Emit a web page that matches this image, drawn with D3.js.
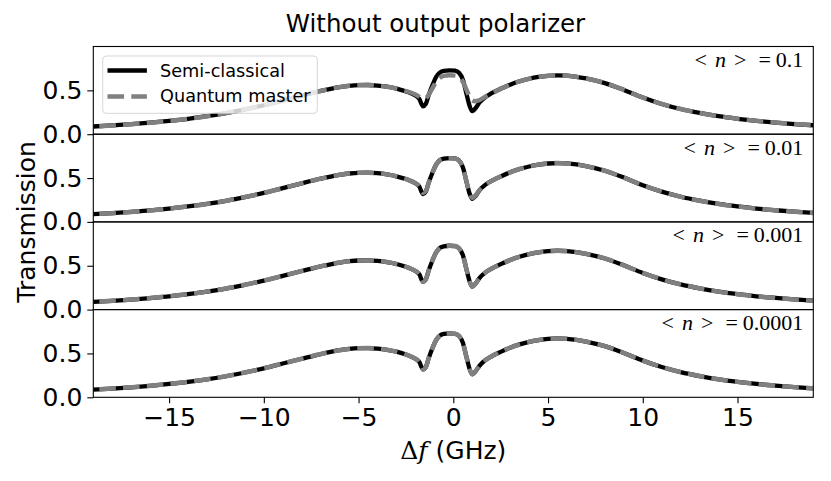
<!DOCTYPE html>
<html><head><meta charset="utf-8">
<script src="https://cdn.jsdelivr.net/npm/d3@7"></script>
<style>body{margin:0;background:#fff} svg{display:block}</style>
</head><body><svg id="c" width="831" height="481"></svg>
<script>
// ---- data ----
const freq = [-19,-18,-17,-16,-15,-14,-13,-12,-11,-10,-9,-8,-7,-6,-5.5,-5,-4.5,-4,-3.5,-3,-2.5,-2,-1.8,-1.6,-1.45,-1.3,-1.1,-0.9,-0.7,-0.5,-0.2,0.1,0.3,0.5,0.7,0.85,1.0,1.15,1.4,1.7,2.0,2.5,3.0,3.5,4.0,4.5,5.0,5.5,6.0,6.5,7.0,8.0,9.0,10,11,12,13,14,15,16,17,18,19];
const semiClassical = [0.088,0.100,0.114,0.131,0.152,0.176,0.205,0.240,0.283,0.330,0.385,0.440,0.493,0.537,0.552,0.560,0.561,0.555,0.542,0.520,0.488,0.440,0.405,0.318,0.345,0.445,0.560,0.655,0.705,0.722,0.728,0.724,0.700,0.625,0.455,0.330,0.262,0.290,0.365,0.425,0.465,0.518,0.565,0.603,0.632,0.653,0.666,0.671,0.667,0.655,0.636,0.583,0.505,0.418,0.345,0.287,0.242,0.205,0.176,0.152,0.133,0.116,0.102];
const quantumN1e1 = [0.088,0.100,0.114,0.131,0.152,0.176,0.205,0.240,0.283,0.330,0.385,0.440,0.493,0.537,0.552,0.560,0.561,0.555,0.542,0.521,0.492,0.452,0.428,0.405,0.413,0.450,0.525,0.600,0.645,0.665,0.672,0.668,0.650,0.600,0.505,0.430,0.385,0.375,0.390,0.428,0.463,0.518,0.565,0.603,0.632,0.653,0.666,0.671,0.667,0.655,0.636,0.583,0.505,0.418,0.345,0.287,0.242,0.205,0.176,0.152,0.133,0.116,0.102];
const quantumN1e2 = [0.088,0.100,0.114,0.131,0.152,0.176,0.205,0.240,0.283,0.330,0.385,0.440,0.493,0.537,0.552,0.560,0.561,0.555,0.542,0.520,0.488,0.441,0.408,0.330,0.352,0.446,0.558,0.652,0.702,0.720,0.726,0.722,0.698,0.624,0.458,0.338,0.274,0.298,0.367,0.425,0.465,0.518,0.565,0.603,0.632,0.653,0.666,0.671,0.667,0.655,0.636,0.583,0.505,0.418,0.345,0.287,0.242,0.205,0.176,0.152,0.133,0.116,0.102];
const quantumN1e3 = [0.088,0.100,0.114,0.131,0.152,0.176,0.205,0.240,0.283,0.330,0.385,0.440,0.493,0.537,0.552,0.560,0.561,0.555,0.542,0.520,0.488,0.440,0.405,0.318,0.345,0.445,0.560,0.655,0.705,0.722,0.728,0.724,0.700,0.625,0.455,0.330,0.262,0.290,0.365,0.425,0.465,0.518,0.565,0.603,0.632,0.653,0.666,0.671,0.667,0.655,0.636,0.583,0.505,0.418,0.345,0.287,0.242,0.205,0.176,0.152,0.133,0.116,0.102];
const quantumN1e4 = [0.088,0.100,0.114,0.131,0.152,0.176,0.205,0.240,0.283,0.330,0.385,0.440,0.493,0.537,0.552,0.560,0.561,0.555,0.542,0.520,0.488,0.440,0.405,0.318,0.345,0.445,0.560,0.655,0.705,0.722,0.728,0.724,0.700,0.625,0.455,0.330,0.262,0.290,0.365,0.425,0.465,0.518,0.565,0.603,0.632,0.653,0.666,0.671,0.667,0.655,0.636,0.583,0.505,0.418,0.345,0.287,0.242,0.205,0.176,0.152,0.133,0.116,0.102];
const panelN = ["0.1","0.01","0.001","0.0001"];
const quantumSeries = [quantumN1e1, quantumN1e2, quantumN1e3, quantumN1e4];
const seriesNames = ["Semi-classical","Quantum master"];
const xTicks = [-15,-10,-5,0,5,10,15];
const yTicks = [0,0.5];
const xDomain = [-19,19];
const yDomain = [0,1];
const titleText = "Without output polarizer";
const yLabelText = "Transmission";

// ---- layout ----
const svg = d3.select("#c");
const L = 93.3, R = 813.3, T = 46.5, B = 397.3;
const nP = 4, ph = (B - T) / nP;
const sans = "DejaVu Sans, sans-serif";
const serif = "DejaVu Serif, Liberation Serif, serif";
const x = d3.scaleLinear(xDomain, [L, R]);
const dash = "16.6,7.2";

const line = (ys, y) => d3.line().x((d,i)=>x(freq[i])).y((d)=>y(d)).curve(d3.curveMonotoneX)(ys);

for (let p = 0; p < nP; p++) {
  const top = T + p * ph;
  const y = d3.scaleLinear(yDomain, [top + ph, top]);
  const g = svg.append("g");
  const cid = "clip" + p;
  svg.append("clipPath").attr("id", cid).append("rect")
    .attr("x", L).attr("y", top).attr("width", R - L).attr("height", ph);
  const lines = g.append("g").attr("clip-path", `url(#${cid})`);
  lines.append("path").attr("d", line(semiClassical, y))
    .attr("fill","none").attr("stroke","#000").attr("stroke-width",4.3);
  lines.append("path").attr("d", line(quantumSeries[p], y))
    .attr("fill","none").attr("stroke","#808080").attr("stroke-width",4.5)
    .attr("stroke-dasharray", dash).attr("stroke-dashoffset", 17.8);

  // y axis
  const ax = g.append("g").attr("transform", `translate(${L},0)`)
    .call(d3.axisLeft(y).tickValues(yTicks).tickFormat(d3.format(".1f")).tickSize(6).tickPadding(5));
  ax.select(".domain").remove();
  ax.selectAll("line").attr("stroke","#000").attr("stroke-width",1.1);
  ax.selectAll("text").attr("font-family", sans).attr("font-size", 25).attr("fill","#000");

  // frame
  g.append("rect").attr("x", L).attr("y", top).attr("width", R - L).attr("height", ph)
    .attr("fill","none").attr("stroke","#000").attr("stroke-width",1.1);

  // annotation  <n> = value
  const t = g.append("text").attr("x", R - 10).attr("y", top + 20.5)
    .attr("text-anchor","end").attr("font-family", "Liberation Serif, serif").attr("font-size", 22).attr("fill","#000");
  t.append("tspan").text("<");
  t.append("tspan").attr("dx", 8).attr("font-style","italic").text("n");
  t.append("tspan").attr("dx", 8).text(">");
  t.append("tspan").attr("dx", 12).text("=");
  t.append("tspan").attr("dx", 5).text(panelN[p]);

  if (p === nP - 1) {
    const xa = svg.append("g").attr("transform", `translate(0,${top + ph})`)
      .call(d3.axisBottom(x).tickValues(xTicks).tickFormat(d3.format("d")).tickSize(6).tickPadding(5));
    xa.select(".domain").remove();
    xa.selectAll("line").attr("stroke","#000").attr("stroke-width",1.1);
    xa.selectAll("text").attr("font-family", sans).attr("font-size", 25).attr("fill","#000");
  }

  if (p === 0) {
    // legend
    const lg = g.append("g");
    lg.append("rect").attr("x",102.7).attr("y",56).attr("width",214.6).attr("height",57.3)
      .attr("rx",3.5).attr("fill","#fff").attr("fill-opacity",0.8)
      .attr("stroke","#cccccc").attr("stroke-opacity",0.8).attr("stroke-width",1);
    lg.append("line").attr("x1",107.5).attr("x2",146.9).attr("y1",70.5).attr("y2",70.5)
      .attr("stroke","#000").attr("stroke-width",4.3);
    lg.append("line").attr("x1",107.5).attr("x2",146.9).attr("y1",96.5).attr("y2",96.5)
      .attr("stroke","#808080").attr("stroke-width",4.5).attr("stroke-dasharray",dash);
    lg.selectAll("text.lt").data(seriesNames).join("text").attr("class","lt")
      .attr("x",160).attr("y",(d,i)=>76.8 + i*25.5)
      .attr("font-family",sans).attr("font-size",17.7).attr("fill","#000").text(d=>d);
  }
}

// title
svg.append("text").attr("x",435.5).attr("y",32).attr("text-anchor","middle")
  .attr("font-family",sans).attr("font-size",24.5).attr("fill","#000").text(titleText);

// y label
svg.append("text").attr("transform",`translate(35,${(T+B)/2}) rotate(-90)`).attr("text-anchor","middle")
  .attr("font-family",sans).attr("font-size",25).attr("fill","#000").text(yLabelText);

// x label
const xl = svg.append("text").attr("x",(L+R)/2).attr("y",459).attr("text-anchor","middle")
  .attr("font-size",25).attr("fill","#000");
xl.append("tspan").attr("font-family",serif).text("Δ");
xl.append("tspan").attr("font-family",serif).attr("font-style","italic").text("f");
xl.append("tspan").attr("font-family",sans).text(" (GHz)");
</script></body></html>
